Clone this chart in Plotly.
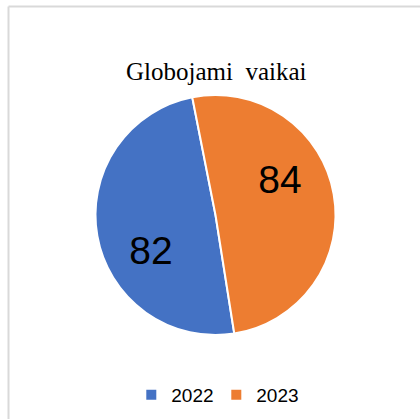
import plotly.graph_objects as go

W, H = 420, 419
title = "Globojami  vaikai"
labels = ["2022", "2023"]
values = [82, 84]
colors = ["#4472C4", "#ED7D31"]
label_text = ["&#160;<br>82&#160;", "&#160;84<br>&#160;"]

def px(x):
    return x / W

def py(y):
    return 1 - y / H

fig = go.Figure(go.Pie(
    labels=labels, values=values, sort=False, direction="clockwise",
    rotation=171,
    marker=dict(colors=colors, line=dict(color="white", width=2)),
    text=label_text, textinfo="text", textposition="inside", insidetextorientation="horizontal",
    textfont=dict(family="Liberation Sans", size=39, color="black"),
    domain=dict(x=[px(95.5), px(335.5)], y=[py(335), py(95)]),
    hoverinfo="label+value",
))

fig.update_layout(
    width=W, height=H,
    margin=dict(l=0, r=0, t=0, b=0),
    paper_bgcolor="white", plot_bgcolor="white",
    showlegend=True,
    legend=dict(orientation="h", x=0.515, xanchor="center", y=py(395), yanchor="middle",
                font=dict(family="Liberation Sans", size=19, color="black"),
                itemwidth=30, tracegroupgap=0, entrywidth=40, entrywidthmode="pixels"),
    annotations=[dict(text=title, x=px(216.5), y=py(71.5), xref="paper", yref="paper",
                      showarrow=False, xanchor="center", yanchor="middle",
                      font=dict(family="Liberation Serif", size=25, color="black"))],
    shapes=[
        dict(type="line", xref="paper", yref="paper", x0=px(8.5), x1=1.0, y0=py(6.5), y1=py(6.5),
             line=dict(color="#d9d9d9", width=2)),
        dict(type="line", xref="paper", yref="paper", x0=px(8.5), x1=px(8.5), y0=py(6.5), y1=0,
             line=dict(color="#d9d9d9", width=2)),
    ],
)

fig.write_html("out.html", config={"displayModeBar": False},
               post_script="document.body.style.margin='0px';")
